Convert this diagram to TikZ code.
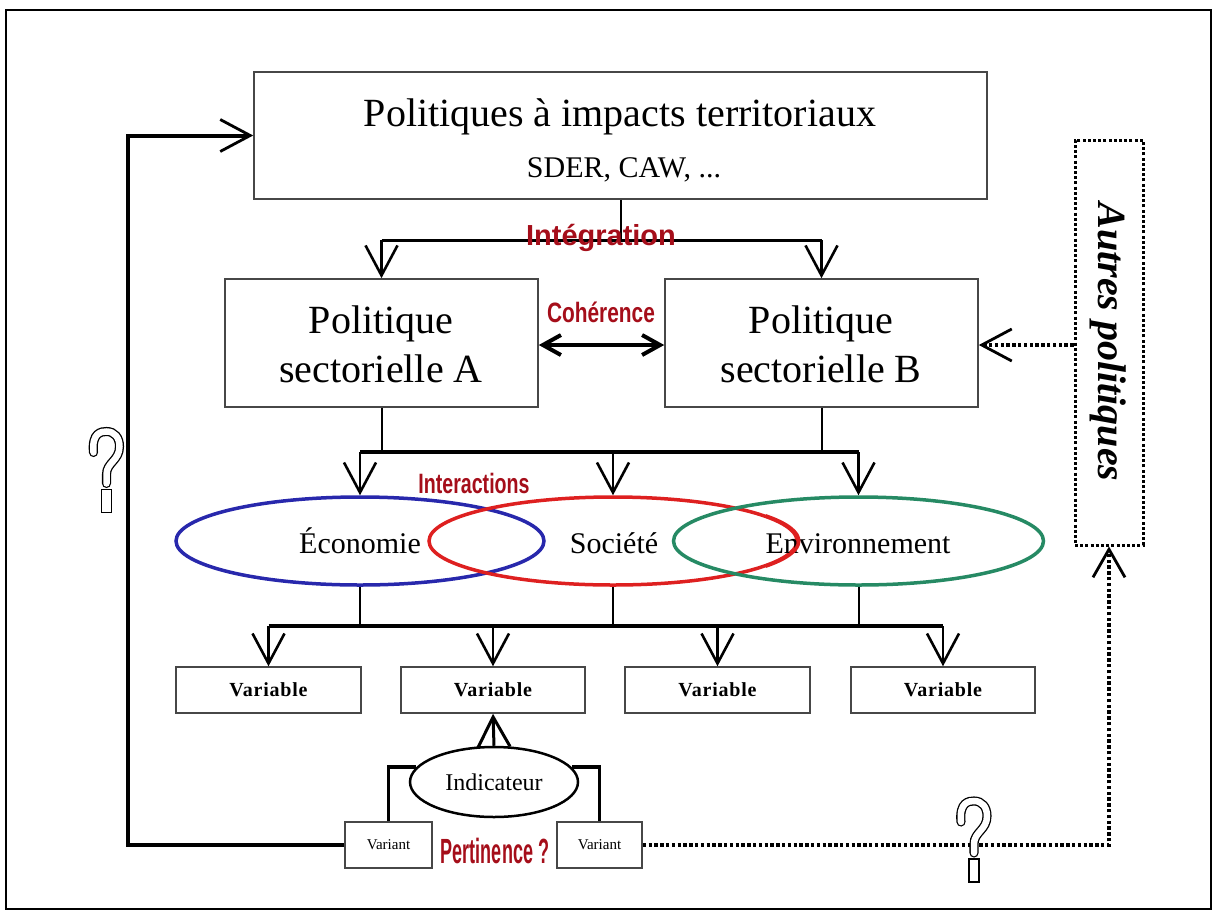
\documentclass[tikz,border=0pt]{standalone}
\usepackage{graphicx}
\usepackage{fontspec}
\setmainfont{Liberation Serif}
\newfontfamily\labfont{Liberation Sans}
\usetikzlibrary{arrows.meta,shapes.geometric}
\definecolor{labred}{RGB}{165,14,26}
\definecolor{ecoblue}{RGB}{40,40,172}
\definecolor{socred}{RGB}{222,32,32}
\definecolor{envgreen}{RGB}{38,138,100}
\newcommand{\myredlab}[3]{\scalebox{#2}[1]{\fontsize{#1}{#1}\selectfont\labfont\bfseries #3}}
\begin{document}
\begin{tikzpicture}[x=1pt,y=-1pt,
  box/.style={draw=black!72, line width=1.6pt, fill=white, inner sep=0pt},
  head/.style={-{Straight Barb[length=30pt,width=32pt]}},
  thinline/.style={line width=2pt},
  thickline/.style={line width=4pt},
  dotline/.style={line width=3.4pt, dash pattern=on 3.4pt off 2.4pt},
  redlab/.style={text=labred, inner sep=0pt},
  qmark/.pic={
    \draw[line width=1.3pt, double=white, double distance=6.5pt, line cap=round]
      (-13,-18) .. controls (-15,-38) and (-5,-39) .. (0,-39)
      .. controls (8,-39) and (13,-33) .. (13,-24)
      .. controls (13,-10) and (0,-8) .. (0,4) -- (0,13);
    \draw[line width=1.3pt, fill=white] (-5,19) rectangle (5,42);
  }]
\useasboundingbox (0,0) rectangle (1213,911);
\draw[line width=2.5pt] (6,10) rectangle (1211,909);

% ---- top box
\node[box, minimum width=733pt, minimum height=127pt] (top) at (620.5,135.5) {};
\node[anchor=base, font=\fontsize{40}{48}\selectfont, inner sep=0pt] (toptext) at (620,126) {Politiques à impacts territoriaux};
\node[anchor=base, font=\fontsize{30}{36}\selectfont, inner sep=0pt] (sder) at (624,177) {SDER, CAW, ...};

% ---- sector boxes
\node[box, minimum width=313pt, minimum height=128pt] (A) at (381.5,343) {};
\node[box, minimum width=313pt, minimum height=128pt] (B) at (821.5,343) {};
\node[anchor=base, font=\fontsize{40}{48}\selectfont, inner sep=0pt] (A1) at (381,333) {Politique};
\node[anchor=base, font=\fontsize{40}{48}\selectfont, inner sep=0pt] (A2) at (381,382) {sectorielle A};
\node[anchor=base, font=\fontsize{40}{48}\selectfont, inner sep=0pt] (B1) at (821,333) {Politique};
\node[anchor=base, font=\fontsize{40}{48}\selectfont, inner sep=0pt] (B2) at (821,382) {sectorielle B};

% ---- autres politiques
\node[draw, line width=3pt, dash pattern=on 3pt off 2.2pt, minimum width=68pt, minimum height=405pt, inner sep=0pt] (autres) at (1109,342.5) {};
\node[rotate=-90, font=\bfseries\itshape\fontsize{40}{48}\selectfont, inner sep=0pt] (autrestext) at (1108,342) {Autres politiques};

% ---- connectors top -> A,B
\coordinate (bar1) at (0,240);
\draw[thinline] (top.south) -- (top.south |- bar1);
\draw[line width=3pt] (A.north |- bar1) -- (B.north |- bar1);
\draw[line width=2.6pt, head] (A.north |- bar1) -- (A.north);
\draw[line width=2.6pt, head] (B.north |- bar1) -- (B.north);
\node[redlab] (integ) at (601,238) {\myredlab{29}{1.0}{Intégration}};

% ---- coherence
\coordinate (ycoh) at (0,345);
\draw[line width=4pt, {Straight Barb[length=18pt,width=20pt]}-{Straight Barb[length=18pt,width=20pt]}] (A.east |- ycoh) -- (B.west |- ycoh);
\node[redlab] (coh) at (601,312) {\myredlab{28}{0.745}{Cohérence}};
\draw[dotline, -{Straight Barb[length=30pt,width=32pt,line width=2.8pt]}] (autres.west |- ycoh) -- (B.east |- ycoh);

% ---- ellipses
\node[ellipse, draw=ecoblue, line width=3.5pt, minimum width=368pt, minimum height=88pt, inner sep=0pt] (eco) at (360,541) {};
\node[ellipse, draw=socred, line width=3.5pt, minimum width=368pt, minimum height=88pt, inner sep=0pt] (soc) at (613,541) {};
\node[ellipse, draw=envgreen, line width=3.5pt, minimum width=370pt, minimum height=88pt, inner sep=0pt] (env) at (858.5,541) {};
\node[anchor=base, font=\fontsize{30}{36}\selectfont, inner sep=0pt] (ecot) at (360,553) {Économie};
\node[anchor=base, font=\fontsize{30}{36}\selectfont, inner sep=0pt] (soct) at (614,553) {Société};
\node[anchor=base, font=\fontsize{30}{36}\selectfont, inner sep=0pt] (envt) at (858,553) {Environnement};
\draw[socred, line width=3.5pt] (soc.east) arc[start angle=0, end angle=35, x radius=184pt, y radius=44pt];
\draw[socred, line width=3.5pt] (soc.east) arc[start angle=0, end angle=-35, x radius=184pt, y radius=44pt];

% ---- connectors A,B -> ellipses
\coordinate (bar2) at (0,452);
\draw[thinline] (A.south) -- (A.south |- bar2);
\draw[thinline] (B.south) -- (B.south |- bar2);
\draw[thickline] (eco.north |- bar2) -- (env.north |- bar2);
\draw[line width=2.6pt, head] (eco.north |- bar2) -- (eco.north);
\draw[line width=2.6pt, head] (soc.north |- bar2) -- (soc.north);
\draw[line width=2.6pt, head] (env.north |- bar2) -- (env.north);
\node[redlab] (inter) at (474,483) {\myredlab{28}{0.70}{Interactions}};

% ---- variables
\tikzset{varbox/.style={box, line width=1.5pt, minimum height=46pt, font=\bfseries\fontsize{20}{24}\selectfont\addfontfeature{LetterSpace=4}}}
\node[varbox, minimum width=185pt] (v1) at (268.5,690) {Variable};
\node[varbox, minimum width=184pt] (v2) at (493,690) {Variable};
\node[varbox, minimum width=185pt] (v3) at (717.5,690) {Variable};
\node[varbox, minimum width=184pt] (v4) at (943,690) {Variable};

\coordinate (bar3) at (0,626);
\draw[thinline] (eco.south) -- (eco.south |- bar3);
\draw[thinline] (soc.south) -- (soc.south |- bar3);
\draw[thinline] (env.south) -- (env.south |- bar3);
\draw[thickline] (v1.north |- bar3) -- (v4.north |- bar3);
\draw[line width=2.6pt, head] (v1.north |- bar3) -- (v1.north);
\draw[line width=2.6pt, head] (v2.north |- bar3) -- (v2.north);
\draw[line width=2.6pt, head] (v3.north |- bar3) -- (v3.north);
\draw[line width=2.6pt, head] (v4.north |- bar3) -- (v4.north);

% ---- indicateur and variants
\node[ellipse, draw, line width=2.5pt, minimum width=168pt, minimum height=70pt, inner sep=0pt, font=\fontsize{24}{28}\selectfont] (ind) at (494,782) {Indicateur};
\draw[line width=3pt, head] (ind.north) -- (v2.south);
\node[box, line width=1.5pt, minimum width=87pt, minimum height=46pt, font=\fontsize{15}{18}\selectfont] (varL) at (388.5,845) {Variant};
\node[box, line width=1.5pt, minimum width=85pt, minimum height=46pt, font=\fontsize{15}{18}\selectfont] (varR) at (599.5,845) {Variant};
\draw[line width=3.5pt] (varL.north) |- (ind.169);
\draw[line width=3.5pt] (varR.north) |- (ind.11);
\node[redlab] (pert) at (495,851) {\myredlab{35}{0.515}{Pertinence ?}};

% ---- feedback loops
\coordinate (fbc) at (128,135.5);
\draw[thickline, -{Straight Barb[length=30pt,width=32pt,line width=2.8pt]}] (varL.west) -| (fbc) -- (top.west);
\coordinate (drc) at (1109,845);
\draw[dotline, -{Straight Barb[length=28pt,width=32pt,line width=2.8pt]}] (varR.east) -- (drc) -- (autres.south);

% ---- question marks
\pic at (106.5,470.5) {qmark};
\pic at (974,840) {qmark};
\end{tikzpicture}
\end{document}
